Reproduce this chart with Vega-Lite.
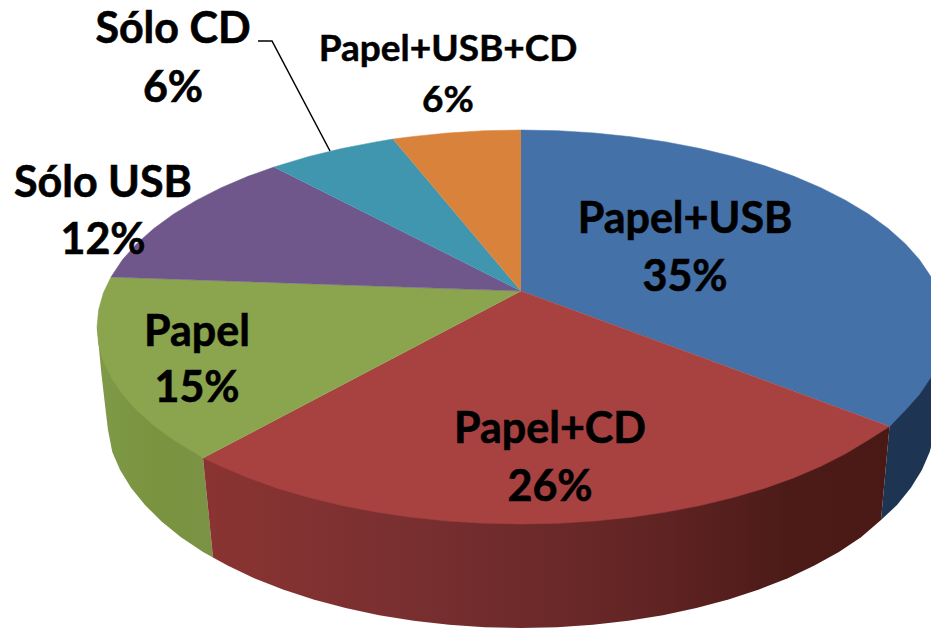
{"$schema":"https://vega.github.io/schema/vega-lite/v6.json","width":931,"height":628,"padding":0,"autosize":{"type":"none"},"background":"white","view":{"stroke":null},
"datasets":{
"lateral":[
{"pieza":"Papel+USB","n":1,"x":889.5,"y":426.5},{"pieza":"Papel+USB","n":2,"x":931,"y":375},{"pieza":"Papel+USB","n":3,"x":931,"y":447},{"pieza":"Papel+USB","n":4,"x":929.7,"y":452},{"pieza":"Papel+USB","n":5,"x":921.9,"y":470},{"pieza":"Papel+USB","n":6,"x":910.9,"y":487.8},{"pieza":"Papel+USB","n":7,"x":897,"y":505},{"pieza":"Papel+USB","n":8,"x":881,"y":520},
{"pieza":"Papel+CD","n":1,"x":889.5,"y":426.5},{"pieza":"Papel+CD","n":2,"x":881,"y":520},{"pieza":"Papel+CD","n":3,"x":861,"y":537.2},{"pieza":"Papel+CD","n":4,"x":838.9,"y":551.9},{"pieza":"Papel+CD","n":5,"x":814.4,"y":565.6},{"pieza":"Papel+CD","n":6,"x":787.8,"y":578.2},{"pieza":"Papel+CD","n":7,"x":759,"y":589.5},{"pieza":"Papel+CD","n":8,"x":728.5,"y":599.5},{"pieza":"Papel+CD","n":9,"x":696.4,"y":608},{"pieza":"Papel+CD","n":10,"x":662.9,"y":615.2},{"pieza":"Papel+CD","n":11,"x":628.4,"y":620.7},{"pieza":"Papel+CD","n":12,"x":593,"y":624.8},{"pieza":"Papel+CD","n":13,"x":557.2,"y":627.2},{"pieza":"Papel+CD","n":14,"x":521,"y":628},{"pieza":"Papel+CD","n":15,"x":484.8,"y":627.2},{"pieza":"Papel+CD","n":16,"x":449,"y":624.8},{"pieza":"Papel+CD","n":17,"x":413.6,"y":620.7},{"pieza":"Papel+CD","n":18,"x":379.1,"y":615.2},{"pieza":"Papel+CD","n":19,"x":345.6,"y":608},{"pieza":"Papel+CD","n":20,"x":313.5,"y":599.5},{"pieza":"Papel+CD","n":21,"x":283,"y":589.5},{"pieza":"Papel+CD","n":22,"x":254.2,"y":578.2},{"pieza":"Papel+CD","n":23,"x":227.6,"y":565.6},{"pieza":"Papel+CD","n":24,"x":213,"y":557.5},{"pieza":"Papel+CD","n":25,"x":203,"y":458},
{"pieza":"Papel","n":1,"x":203,"y":458},{"pieza":"Papel","n":2,"x":213,"y":557.5},{"pieza":"Papel","n":3,"x":203.1,"y":551.9},{"pieza":"Papel","n":4,"x":181,"y":537.2},{"pieza":"Papel","n":5,"x":161.6,"y":521.5},{"pieza":"Papel","n":6,"x":145,"y":505},{"pieza":"Papel","n":7,"x":131,"y":487.8},{"pieza":"Papel","n":8,"x":120.1,"y":470},{"pieza":"Papel","n":9,"x":112.3,"y":452},{"pieza":"Papel","n":10,"x":108,"y":430},{"pieza":"Papel","n":11,"x":105,"y":405},{"pieza":"Papel","n":12,"x":101,"y":370},{"pieza":"Papel","n":13,"x":97,"y":327}
],
"superior":[
{"pieza":"Papel+USB","n":1,"x":521,"y":291},{"pieza":"Papel+USB","n":2,"x":521,"y":130},{"pieza":"Papel+USB","n":3,"x":558,"y":130.7},{"pieza":"Papel+USB","n":4,"x":594.6,"y":133},{"pieza":"Papel+USB","n":5,"x":630.7,"y":136.7},{"pieza":"Papel+USB","n":6,"x":666,"y":141.9},{"pieza":"Papel+USB","n":7,"x":700.2,"y":148.5},{"pieza":"Papel+USB","n":8,"x":733,"y":156.4},{"pieza":"Papel+USB","n":9,"x":764.2,"y":165.6},{"pieza":"Papel+USB","n":10,"x":793.5,"y":176.1},{"pieza":"Papel+USB","n":11,"x":820.8,"y":187.7},{"pieza":"Papel+USB","n":12,"x":845.8,"y":200.4},{"pieza":"Papel+USB","n":13,"x":868.3,"y":214},{"pieza":"Papel+USB","n":14,"x":888.2,"y":228.5},{"pieza":"Papel+USB","n":15,"x":905.3,"y":243.7},{"pieza":"Papel+USB","n":16,"x":919.4,"y":259.6},{"pieza":"Papel+USB","n":17,"x":930.5,"y":276},{"pieza":"Papel+USB","n":18,"x":938.6,"y":292.8},{"pieza":"Papel+USB","n":19,"x":943.4,"y":309.8},{"pieza":"Papel+USB","n":20,"x":945,"y":327},{"pieza":"Papel+USB","n":21,"x":943.4,"y":344.2},{"pieza":"Papel+USB","n":22,"x":938.6,"y":361.2},{"pieza":"Papel+USB","n":23,"x":930.5,"y":378},{"pieza":"Papel+USB","n":24,"x":919.4,"y":394.4},{"pieza":"Papel+USB","n":25,"x":905.3,"y":410.3},{"pieza":"Papel+USB","n":26,"x":889.5,"y":426.5},
{"pieza":"Papel+CD","n":1,"x":521,"y":291},{"pieza":"Papel+CD","n":2,"x":889.5,"y":426.5},{"pieza":"Papel+CD","n":3,"x":868.3,"y":440},{"pieza":"Papel+CD","n":4,"x":845.8,"y":453.6},{"pieza":"Papel+CD","n":5,"x":820.8,"y":466.3},{"pieza":"Papel+CD","n":6,"x":793.5,"y":477.9},{"pieza":"Papel+CD","n":7,"x":764.2,"y":488.4},{"pieza":"Papel+CD","n":8,"x":733,"y":497.6},{"pieza":"Papel+CD","n":9,"x":700.2,"y":505.5},{"pieza":"Papel+CD","n":10,"x":666,"y":512.1},{"pieza":"Papel+CD","n":11,"x":630.7,"y":517.3},{"pieza":"Papel+CD","n":12,"x":594.6,"y":521},{"pieza":"Papel+CD","n":13,"x":558,"y":523.3},{"pieza":"Papel+CD","n":14,"x":521,"y":524},{"pieza":"Papel+CD","n":15,"x":484,"y":523.3},{"pieza":"Papel+CD","n":16,"x":447.4,"y":521},{"pieza":"Papel+CD","n":17,"x":411.3,"y":517.3},{"pieza":"Papel+CD","n":18,"x":376,"y":512.1},{"pieza":"Papel+CD","n":19,"x":341.8,"y":505.5},{"pieza":"Papel+CD","n":20,"x":309,"y":497.6},{"pieza":"Papel+CD","n":21,"x":277.8,"y":488.4},{"pieza":"Papel+CD","n":22,"x":248.5,"y":477.9},{"pieza":"Papel+CD","n":23,"x":221.2,"y":466.3},{"pieza":"Papel+CD","n":24,"x":203,"y":458},
{"pieza":"Papel","n":1,"x":521,"y":291},{"pieza":"Papel","n":2,"x":203,"y":458},{"pieza":"Papel","n":3,"x":196.2,"y":453.6},{"pieza":"Papel","n":4,"x":173.7,"y":440},{"pieza":"Papel","n":5,"x":153.8,"y":425.5},{"pieza":"Papel","n":6,"x":136.7,"y":410.3},{"pieza":"Papel","n":7,"x":122.6,"y":394.4},{"pieza":"Papel","n":8,"x":111.5,"y":378},{"pieza":"Papel","n":9,"x":103.4,"y":361.2},{"pieza":"Papel","n":10,"x":98.6,"y":344.2},{"pieza":"Papel","n":11,"x":97,"y":327},{"pieza":"Papel","n":12,"x":98.6,"y":309.8},{"pieza":"Papel","n":13,"x":103.4,"y":292.8},{"pieza":"Papel","n":14,"x":111,"y":277},
{"pieza":"Sólo USB","n":1,"x":521,"y":291},{"pieza":"Sólo USB","n":2,"x":111,"y":277},{"pieza":"Sólo USB","n":3,"x":122.6,"y":259.6},{"pieza":"Sólo USB","n":4,"x":136.7,"y":243.7},{"pieza":"Sólo USB","n":5,"x":153.8,"y":228.5},{"pieza":"Sólo USB","n":6,"x":173.7,"y":214},{"pieza":"Sólo USB","n":7,"x":196.2,"y":200.4},{"pieza":"Sólo USB","n":8,"x":221.2,"y":187.7},{"pieza":"Sólo USB","n":9,"x":248.5,"y":176.1},{"pieza":"Sólo USB","n":10,"x":274,"y":167},
{"pieza":"Sólo CD","n":1,"x":521,"y":291},{"pieza":"Sólo CD","n":2,"x":274,"y":167},{"pieza":"Sólo CD","n":3,"x":309,"y":156.4},{"pieza":"Sólo CD","n":4,"x":341.8,"y":148.5},{"pieza":"Sólo CD","n":5,"x":376,"y":141.9},{"pieza":"Sólo CD","n":6,"x":393,"y":139},
{"pieza":"Papel+USB+CD","n":1,"x":521,"y":291},{"pieza":"Papel+USB+CD","n":2,"x":393,"y":139},{"pieza":"Papel+USB+CD","n":3,"x":411.3,"y":136.7},{"pieza":"Papel+USB+CD","n":4,"x":447.4,"y":133},{"pieza":"Papel+USB+CD","n":5,"x":484,"y":130.7},{"pieza":"Papel+USB+CD","n":6,"x":521,"y":130}
],
"guia":[{"n":1,"x":258,"y":41},{"n":2,"x":272,"y":41},{"n":3,"x":330,"y":151}],
"etiquetas":[
{"texto":"Papel+USB","grupo":"a","x":685,"y":220},{"texto":"35%","grupo":"a","x":685,"y":278},
{"texto":"Papel+CD","grupo":"a","x":550,"y":430},{"texto":"26%","grupo":"a","x":550,"y":488},
{"texto":"Papel","grupo":"a","x":197,"y":333},{"texto":"15%","grupo":"a","x":197,"y":389},
{"texto":"Sólo USB","grupo":"a","x":103,"y":184},{"texto":"12%","grupo":"a","x":103,"y":241},
{"texto":"Sólo CD","grupo":"a","x":173,"y":30},{"texto":"6%","grupo":"a","x":173,"y":89},
{"texto":"Papel+USB+CD","grupo":"b","x":448,"y":50},{"texto":"6%","grupo":"b","x":448,"y":101}
]},
"encoding":{
"x":{"field":"x","type":"quantitative","axis":null,"scale":{"domain":[0,931],"nice":false,"zero":false}},
"y":{"field":"y","type":"quantitative","axis":null,"scale":{"domain":[628,0],"nice":false,"zero":false}}},
"layer":[
{"data":{"name":"lateral"},"transform":[{"filter":"datum.pieza==='Papel+USB'"}],"mark":{"type":"line","clip":true,"strokeWidth":0,"fill":"#1d3452"},"encoding":{"order":{"field":"n"}}},
{"data":{"name":"lateral"},"transform":[{"filter":"datum.pieza==='Papel'"}],"mark":{"type":"line","clip":true,"strokeWidth":0,"fill":{"gradient":"linear","x1":0,"x2":1,"y1":0,"y2":0,"stops":[{"offset":0,"color":"#7f9a48"},{"offset":0.5,"color":"#79933f"},{"offset":1,"color":"#7b9345"}]}},"encoding":{"order":{"field":"n"}}},
{"data":{"name":"lateral"},"transform":[{"filter":"datum.pieza==='Papel+CD'"}],"mark":{"type":"line","clip":true,"strokeWidth":0,"fill":{"gradient":"linear","x1":0,"x2":1,"y1":0,"y2":0,"stops":[{"offset":0,"color":"#8a3432"},{"offset":0.3,"color":"#792f30"},{"offset":0.6,"color":"#662626"},{"offset":0.85,"color":"#4c1b18"},{"offset":1,"color":"#4a1916"}]}},"encoding":{"order":{"field":"n"}}},
{"data":{"name":"superior"},"mark":{"type":"line","clip":true,"strokeWidth":0.5},"encoding":{"order":{"field":"n"},
"fill":{"field":"pieza","type":"nominal","legend":null,"scale":{"domain":["Papel+USB","Papel+CD","Papel","Sólo USB","Sólo CD","Papel+USB+CD"],"range":["#4471a8","#a74240","#8ba44e","#6f578c","#3f96ae","#d9823c"]}},
"stroke":{"field":"pieza","type":"nominal","legend":null,"scale":{"domain":["Papel+USB","Papel+CD","Papel","Sólo USB","Sólo CD","Papel+USB+CD"],"range":["#4471a8","#a74240","#8ba44e","#6f578c","#3f96ae","#d9823c"]}}}},
{"data":{"name":"guia"},"mark":{"type":"line","color":"#000000","strokeWidth":1.5},"encoding":{"order":{"field":"n"}}},
{"data":{"name":"etiquetas"},"transform":[{"filter":"datum.grupo==='a'"}],"mark":{"type":"text","font":"Lato","fontWeight":"bold","fontSize":43,"color":"#000000","stroke":"#000000","strokeWidth":0.6,"align":"center","baseline":"middle"},"encoding":{"text":{"field":"texto"}}},
{"data":{"name":"etiquetas"},"transform":[{"filter":"datum.grupo==='b'"}],"mark":{"type":"text","font":"Lato","fontWeight":"bold","fontSize":37,"color":"#000000","stroke":"#000000","strokeWidth":0.5,"align":"center","baseline":"middle"},"encoding":{"text":{"field":"texto"}}}
]}
